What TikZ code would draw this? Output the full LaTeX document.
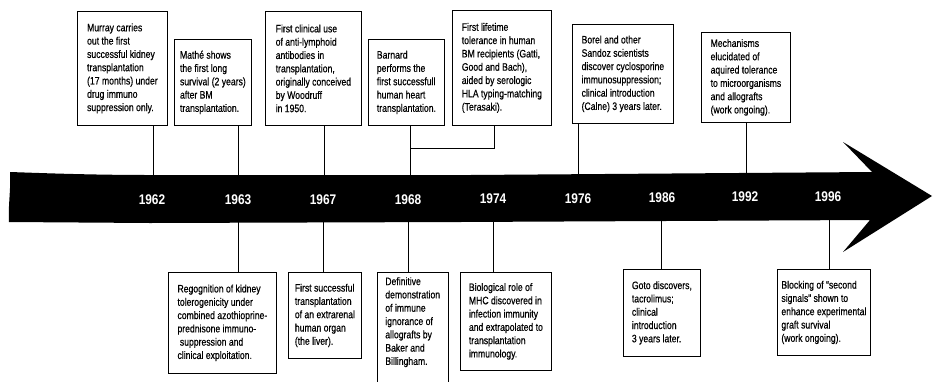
\documentclass[tikz,border=0pt]{standalone}
\usepackage{fontspec}
\setmainfont{Liberation Sans}[FakeStretch=0.8,FakeBold=0.5]
\newfontfamily\yearfont{Liberation Sans}[FakeStretch=0.85]
\begin{document}
\begin{tikzpicture}[x=1pt,y=-1pt,
  box/.style={draw, line width=0.8pt, align=left, inner sep=0pt, anchor=north west,
    font=\fontsize{10.8}{13.3}\selectfont},
  openbox/.style={align=left, inner sep=0pt, anchor=north west,
    font=\fontsize{10.8}{13.3}\selectfont},
  yr/.style={text=white, font=\yearfont\fontsize{14}{14}\selectfont\bfseries},
  conn/.style={line width=0.8pt}]
\useasboundingbox (0,0) rectangle (933,381);
% arrow
\fill[black] (10,172) .. controls (40,173) and (90,175) .. (150,175)
  -- (470,175) -- (872,172) -- (843,142) -- (932,196) -- (843,252) -- (870,220)
  -- (460,222) -- (150,223) -- (9,222) .. controls (8,205) and (11,190) .. (10,172) -- cycle;
% years
\node[yr] (y62) at (152,200) {1962};
\node[yr] (y63) at (238,200) {1963};
\node[yr] (y67) at (323,200) {1967};
\node[yr] (y68) at (408,200) {1968};
\node[yr] (y74) at (493,199) {1974};
\node[yr] (y76) at (578,199) {1976};
\node[yr] (y86) at (662,198) {1986};
\node[yr] (y92) at (745,197) {1992};
\node[yr] (y96) at (828,197) {1996};
% attach points on the arrow
\coordinate (t62) at (153,176);
\coordinate (t63) at (238,176);
\coordinate (t67) at (324,176);
\coordinate (t68) at (410,176);
\coordinate (k74) at (494,148);
\coordinate (t76) at (578,175);
\coordinate (t92) at (746,174);
\coordinate (u63) at (238,221);
\coordinate (u67) at (323,221);
\coordinate (u68) at (408,221);
\coordinate (u74) at (493,221);
\coordinate (u86) at (661,221);
\coordinate (u96) at (829,220);
% top boxes
\node[box, minimum width=90, minimum height=114] (b62) at (77,11)
 {Murray carries\\out the first\\successful kidney\\transplantation\\(17 months) under\\drug immuno\\suppression only.};
\node[box, minimum width=77, minimum height=86] (b63) at (174,39)
 {Mathé shows\\the first long\\survival (2 years)\\after BM\\transplantation.};
\node[box, minimum width=96, minimum height=114] (b67) at (265,11)
 {First clinical use\\of anti-lymphoid\\antibodies in\\transplantation,\\originally conceived\\by Woodruff\\in 1950.};
\node[box, minimum width=76, minimum height=86] (b68) at (368,39)
 {Barnard\\performs the\\first successfull\\human heart\\transplantation.};
\node[box, minimum width=99, minimum height=115] (b74) at (452,10)
 {First lifetime\\tolerance in human\\BM recipients (Gatti,\\Good and Bach),\\aided by serologic\\HLA typing-matching\\(Terasaki).};
\node[box, minimum width=101, minimum height=99] (b76) at (572,24)
 {Borel and other\\Sandoz scientists\\discover cyclosporine\\immunosuppression;\\clinical introduction\\(Calne) 3 years later.};
\node[box, minimum width=89, minimum height=90] (b92) at (701,32)
 {Mechanisms\\elucidated of\\aquired tolerance\\to microorganisms\\and allografts\\(work ongoing).};
% bottom boxes
\node[box, minimum width=108, minimum height=101] (a63) at (168,272)
 {Regognition of kidney\\tolerogenicity under\\combined azothioprine-\\prednisone immuno-\\\ suppression and\\clinical exploitation.};
\node[box, minimum width=73, minimum height=86] (a67) at (288,272)
 {First successful\\transplantation\\of an extrarenal\\human organ\\(the liver).};
\node[openbox, minimum width=71, minimum height=100] (a68) at (377,272)
 {Definitive\\demonstration\\of immune\\ignorance of\\allografts by\\Baker and\\Billingham.};
\draw[conn] (a68.south west |- 0,392) -- (a68.north west) -- (a68.north east) -- (a68.south east |- 0,392);
\node[box, minimum width=91, minimum height=98] (a74) at (460,272)
 {Biological role of\\MHC discovered in\\infection immunity\\and extrapolated to\\transplantation\\immunology.};
\node[box, minimum width=77, minimum height=87] (a86) at (623,269)
 {Goto discovers,\\tacrolimus;\\clinical\\introduction\\3 years later.};
\node[box, minimum width=93, minimum height=86] (a96) at (777,269)
 {Blocking of “second\\signals” shown to\\enhance experimental\\graft survival\\(work ongoing).};
% connectors top
\draw[conn] (b62.south -| t62) -- (t62);
\draw[conn] (b63.south -| t63) -- (t63);
\draw[conn] (b67.south -| t67) -- (t67);
\draw[conn] (b68.south -| t68) -- (t68);
\draw[conn] (b74.south -| k74) -- (k74) -- (k74 -| t68);
\draw[conn] (b76.south -| t76) -- (t76);
\draw[conn] (b92.south -| t92) -- (t92);
% connectors bottom
\draw[conn] (u63) -- (u63 |- a63.north);
\draw[conn] (u67) -- (u67 |- a67.north);
\draw[conn] (u68) -- (u68 |- a68.north);
\draw[conn] (u74) -- (u74 |- a74.north);
\draw[conn] (u86) -- (u86 |- a86.north);
\draw[conn] (u96) -- (u96 |- a96.north);
\end{tikzpicture}
\end{document}
